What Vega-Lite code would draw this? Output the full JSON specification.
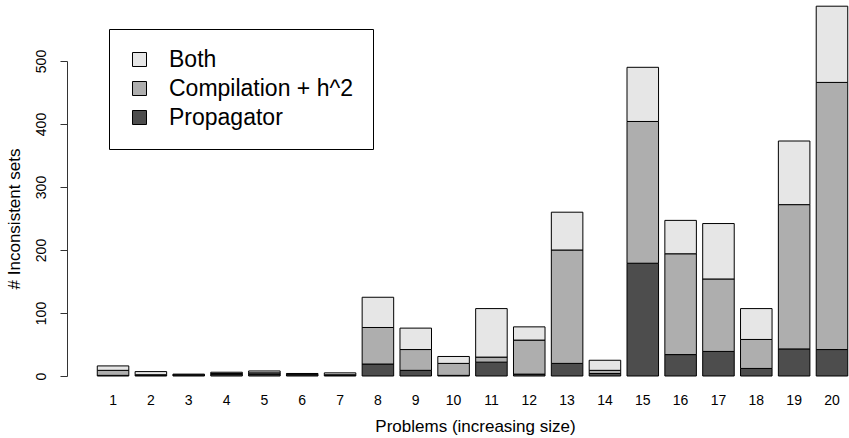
{
  "$schema": "https://vega.github.io/schema/vega-lite/v6.json",
  "autosize": "none",
  "width": 782,
  "height": 315,
  "padding": {"left": 67, "top": 61, "right": 0, "bottom": 62},
  "background": "white",
  "config": {
    "view": {"stroke": null},
    "font": "Liberation Sans",
    "axis": {"grid": false, "labelColor": "black", "titleColor": "black", "titleFontWeight": "normal"}
  },
  "data": {
    "values": [
      {"problem": 1, "type": "Propagator", "count": 1},
      {"problem": 1, "type": "Compilation + h^2", "count": 8},
      {"problem": 1, "type": "Both", "count": 7},
      {"problem": 2, "type": "Propagator", "count": 1},
      {"problem": 2, "type": "Compilation + h^2", "count": 1},
      {"problem": 2, "type": "Both", "count": 5},
      {"problem": 3, "type": "Propagator", "count": 2},
      {"problem": 3, "type": "Compilation + h^2", "count": 0},
      {"problem": 3, "type": "Both", "count": 1},
      {"problem": 4, "type": "Propagator", "count": 3},
      {"problem": 4, "type": "Compilation + h^2", "count": 1},
      {"problem": 4, "type": "Both", "count": 2},
      {"problem": 5, "type": "Propagator", "count": 3},
      {"problem": 5, "type": "Compilation + h^2", "count": 2},
      {"problem": 5, "type": "Both", "count": 3},
      {"problem": 6, "type": "Propagator", "count": 2},
      {"problem": 6, "type": "Compilation + h^2", "count": 1},
      {"problem": 6, "type": "Both", "count": 1},
      {"problem": 7, "type": "Propagator", "count": 1},
      {"problem": 7, "type": "Compilation + h^2", "count": 1},
      {"problem": 7, "type": "Both", "count": 3},
      {"problem": 8, "type": "Propagator", "count": 19},
      {"problem": 8, "type": "Compilation + h^2", "count": 58},
      {"problem": 8, "type": "Both", "count": 48},
      {"problem": 9, "type": "Propagator", "count": 9},
      {"problem": 9, "type": "Compilation + h^2", "count": 33},
      {"problem": 9, "type": "Both", "count": 34},
      {"problem": 10, "type": "Propagator", "count": 1},
      {"problem": 10, "type": "Compilation + h^2", "count": 19},
      {"problem": 10, "type": "Both", "count": 11},
      {"problem": 11, "type": "Propagator", "count": 22},
      {"problem": 11, "type": "Compilation + h^2", "count": 8},
      {"problem": 11, "type": "Both", "count": 77},
      {"problem": 12, "type": "Propagator", "count": 3},
      {"problem": 12, "type": "Compilation + h^2", "count": 54},
      {"problem": 12, "type": "Both", "count": 21},
      {"problem": 13, "type": "Propagator", "count": 20},
      {"problem": 13, "type": "Compilation + h^2", "count": 180},
      {"problem": 13, "type": "Both", "count": 60},
      {"problem": 14, "type": "Propagator", "count": 4},
      {"problem": 14, "type": "Compilation + h^2", "count": 5},
      {"problem": 14, "type": "Both", "count": 16},
      {"problem": 15, "type": "Propagator", "count": 179},
      {"problem": 15, "type": "Compilation + h^2", "count": 225},
      {"problem": 15, "type": "Both", "count": 86},
      {"problem": 16, "type": "Propagator", "count": 34},
      {"problem": 16, "type": "Compilation + h^2", "count": 160},
      {"problem": 16, "type": "Both", "count": 53},
      {"problem": 17, "type": "Propagator", "count": 39},
      {"problem": 17, "type": "Compilation + h^2", "count": 115},
      {"problem": 17, "type": "Both", "count": 88},
      {"problem": 18, "type": "Propagator", "count": 12},
      {"problem": 18, "type": "Compilation + h^2", "count": 46},
      {"problem": 18, "type": "Both", "count": 49},
      {"problem": 19, "type": "Propagator", "count": 43},
      {"problem": 19, "type": "Compilation + h^2", "count": 229},
      {"problem": 19, "type": "Both", "count": 101},
      {"problem": 20, "type": "Propagator", "count": 42},
      {"problem": 20, "type": "Compilation + h^2", "count": 424},
      {"problem": 20, "type": "Both", "count": 121}
    ]
  },
  "mark": {"type": "bar", "stroke": "black", "strokeWidth": 1, "clip": false},
  "encoding": {
    "x": {
      "field": "problem",
      "type": "ordinal",
      "scale": {"paddingInner": 0.1667, "paddingOuter": 0.4167, "align": 0.96},
      "axis": {
        "title": "Problems (increasing size)",
        "titleFontSize": 17,
        "titlePadding": 11,
        "labelFontSize": 14,
        "labelAngle": 0,
        "labelPadding": 17,
        "ticks": false,
        "tickSize": 0,
        "domain": false,
        "titleX": 408
      }
    },
    "y": {
      "field": "count",
      "type": "quantitative",
      "stack": "zero",
      "scale": {"domain": [0, 500], "nice": false},
      "axis": {
        "title": "# Inconsistent sets",
        "titleFontSize": 17,
        "titlePadding": 11,
        "labelFontSize": 14,
        "labelAngle": -90,
        "labelPadding": 12,
        "values": [0, 100, 200, 300, 400, 500],
        "tickSize": 7,
        "tickColor": "#333",
        "domainColor": "#333",
        "offset": 0
      }
    },
    "color": {
      "field": "type",
      "type": "nominal",
      "scale": {"domain": ["Both", "Compilation + h^2", "Propagator"], "range": ["#E6E6E6", "#AEAEAE", "#4D4D4D"]},
      "legend": {
        "title": null,
        "orient": "none",
        "legendX": 42,
        "legendY": -32,
        "strokeColor": "black",
        "padding": 19,
        "symbolType": "square",
        "symbolSize": 196,
        "symbolStrokeColor": "black",
        "symbolStrokeWidth": 1,
        "labelFontSize": 23,
        "labelOffset": 18,
        "rowPadding": 5,
        "labelColor": "black",
        "labelLimit": 400
      }
    },
    "order": {"field": "type", "sort": "descending"}
  }
}
